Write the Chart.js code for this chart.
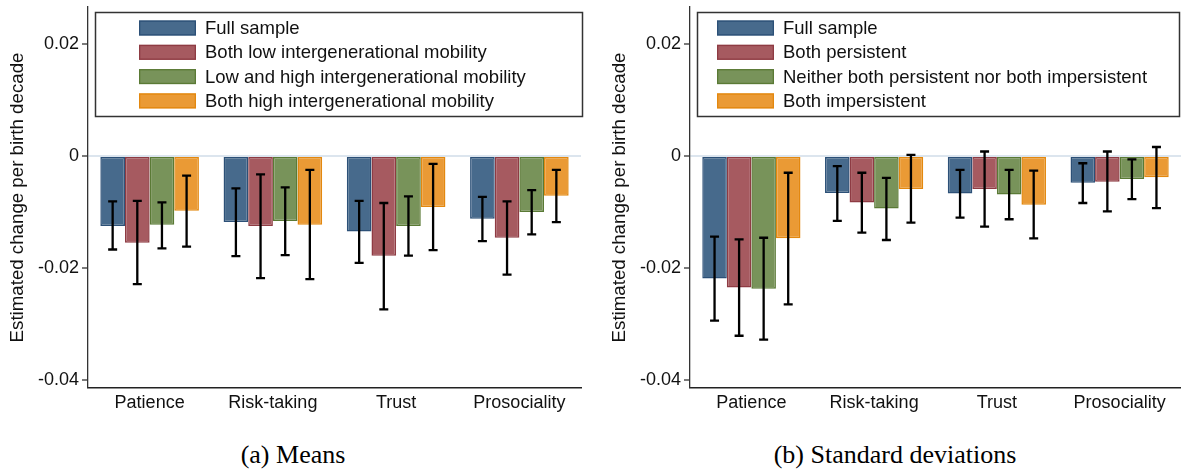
<!DOCTYPE html>
<html>
<head>
<meta charset="utf-8">
<script src="https://cdn.jsdelivr.net/npm/chart.js@4.4.1/dist/chart.umd.min.js"></script>
<style>
  html, body { margin: 0; padding: 0; background: #fff; }
  body { width: 1181px; height: 469px; overflow: hidden; position: relative; }
  .panel { position: absolute; top: 0; }
  #panelA { left: 0; }
  #panelB { left: 590px; }
  .cap { position: absolute; top: 442px; width: 400px; text-align: center;
         font-family: "Liberation Serif", "Times New Roman", serif; font-size: 26px; line-height: 26px; color: #000; }
  #capA { left: 93px; }
  #capB { left: 695px; }
</style>
</head>
<body>
<div class="panel" id="panelA"><canvas id="chartA" width="590" height="420"></canvas></div>
<div class="panel" id="panelB"><canvas id="chartB" width="591" height="420"></canvas></div>
<div class="cap" id="capA">(a) Means</div>
<div class="cap" id="capB">(b) Standard deviations</div>

<script>
// Outcomes on the horizontal axis
const categories = ['Patience', 'Risk-taking', 'Trust', 'Prosociality'];
const yTicks = [-0.04, -0.02, 0, 0.02];
const yTickLabels = ['-0.04', '-0.02', '0', '0.02'];
const yTitle = 'Estimated change per birth decade';

// Panel (a): means
const meansLabels = ['Full sample', 'Both low intergenerational mobility',
                     'Low and high intergenerational mobility', 'Both high intergenerational mobility'];
const meansFull     = [-0.0125, -0.0118, -0.0135, -0.0112];
const meansBothLow  = [-0.0155, -0.0125, -0.0178, -0.0146];
const meansLowHigh  = [-0.0123, -0.0116, -0.0125, -0.0100];
const meansBothHigh = [-0.0098, -0.0123, -0.0091, -0.0071];
const meansFullCI     = [[-0.0167, -0.0081], [-0.0179, -0.0058], [-0.0191, -0.0080], [-0.0152, -0.0073]];
const meansBothLowCI  = [[-0.0229, -0.0080], [-0.0218, -0.0033], [-0.0274, -0.0084], [-0.0212, -0.0081]];
const meansLowHighCI  = [[-0.0165, -0.0083], [-0.0177, -0.0056], [-0.0178, -0.0072], [-0.0140, -0.0061]];
const meansBothHighCI = [[-0.0162, -0.0035], [-0.0220, -0.0025], [-0.0168, -0.0014], [-0.0118, -0.0025]];

// Panel (b): standard deviations
const sdLabels = ['Full sample', 'Both persistent',
                  'Neither both persistent nor both impersistent', 'Both impersistent'];
const sdFull         = [-0.0219, -0.0066, -0.0067, -0.0048];
const sdPersistent   = [-0.0235, -0.0083, -0.0059, -0.0046];
const sdNeither      = [-0.0237, -0.0094, -0.0069, -0.0041];
const sdImpersistent = [-0.0147, -0.0059, -0.0087, -0.0038];
const sdFullCI         = [[-0.0294, -0.0144], [-0.0116, -0.0018], [-0.0110, -0.0025], [-0.0084, -0.0013]];
const sdPersistentCI   = [[-0.0321, -0.0149], [-0.0137, -0.0030], [-0.0126, 0.0008], [-0.0099, 0.0008]];
const sdNeitherCI      = [[-0.0328, -0.0146], [-0.0150, -0.0039], [-0.0113, -0.0025], [-0.0077, -0.0006]];
const sdImpersistentCI = [[-0.0265, -0.0030], [-0.0119, 0.0002], [-0.0147, -0.0026], [-0.0093, 0.0016]];

// Series styling
const fills   = ['#476A8C', '#A65A60', '#78935A', '#EA9A35'];
const borders = ['#2C5077', '#8E3B43', '#5A7A35', '#E3880F'];

const SANS = '"Liberation Sans", Arial, sans-serif';

// Confidence interval whiskers drawn over each bar
const errorBars = {
  id: 'errorBars',
  afterDatasetsDraw(chart) {
    const ctx = chart.ctx, ys = chart.scales.y;
    chart.data.datasets.forEach((ds, i) => {
      const meta = chart.getDatasetMeta(i);
      meta.data.forEach((bar, j) => {
        const lo = ys.getPixelForValue(ds.ci[j][0]);
        const hi = ys.getPixelForValue(ds.ci[j][1]);
        const x = bar.x, cap = 4.5;
        ctx.save();
        ctx.strokeStyle = '#000';
        ctx.lineWidth = 2.3;
        ctx.beginPath();
        ctx.moveTo(x, lo); ctx.lineTo(x, hi);
        ctx.moveTo(x - cap, lo); ctx.lineTo(x + cap, lo);
        ctx.moveTo(x - cap, hi); ctx.lineTo(x + cap, hi);
        ctx.stroke();
        ctx.restore();
      });
    });
  }
};

// Boxed legend inside the plot region, plus the rotated y-axis title
const boxLegend = {
  id: 'boxLegend',
  afterDraw(chart, args, o) {
    const ctx = chart.ctx;
    ctx.save();
    ctx.strokeStyle = '#333';
    ctx.lineWidth = 1.5;
    ctx.strokeRect(o.x, o.y, o.w, o.h);
    ctx.font = '18.5px ' + SANS;
    ctx.textBaseline = 'middle';
    ctx.fillStyle = '#111';
    chart.data.datasets.forEach((ds, i) => {
      const cy = o.y + 15.5 + i * 24.3;
      ctx.fillStyle = ds.backgroundColor;
      ctx.fillRect(o.sx, cy - 7.5, 57, 15);
      ctx.strokeStyle = ds.borderColor;
      ctx.lineWidth = 1.3;
      ctx.strokeRect(o.sx + 0.65, cy - 7.5 + 0.65, 57 - 1.3, 15 - 1.3);
      ctx.fillStyle = '#111';
      ctx.fillText(ds.label, o.sx + 66, cy + 1);
    });
    // y-axis title
    ctx.translate(o.titleX, (chart.chartArea.top + chart.chartArea.bottom) / 2);
    ctx.rotate(-Math.PI / 2);
    ctx.textAlign = 'center';
    ctx.textBaseline = 'middle';
    ctx.font = '18.7px ' + SANS;
    ctx.fillStyle = '#111';
    ctx.fillText(yTitle, 0, 0);
    ctx.restore();
  }
};

function makeChart(id, labels, series, cis, axisWidth, padRight, legendOpts) {
  const datasets = series.map((vals, i) => ({
    label: labels[i],
    data: vals,
    ci: cis[i],
    backgroundColor: fills[i],
    borderColor: borders[i],
    borderWidth: 1.5,
    borderSkipped: false,
    categoryPercentage: 0.8,
    barPercentage: 1.0
  }));
  return new Chart(document.getElementById(id), {
    type: 'bar',
    data: { labels: categories, datasets },
    options: {
      responsive: false,
      devicePixelRatio: 1,
      animation: false,
      layout: { padding: { top: 7, right: padRight, left: 0, bottom: 0 } },
      plugins: {
        legend: { display: false },
        tooltip: { enabled: false },
        boxLegend: legendOpts
      },
      scales: {
        x: {
          afterFit(scale) { scale.height = 32; scale.paddingLeft = 0; scale.paddingRight = 0; },
          grid: { display: true, drawOnChartArea: false, drawTicks: false },
          border: { display: true, color: '#222', width: 1.5 },
          ticks: { color: '#111', font: { family: SANS, size: 18 }, padding: 4, maxRotation: 0 }
        },
        y: {
          min: -0.04143,
          max: 0.0266,
          afterFit(scale) { scale.width = axisWidth; scale.paddingTop = 0; scale.paddingBottom = 0; },
          afterBuildTicks(scale) { scale.ticks = yTicks.map(v => ({ value: v })); },
          grid: {
            drawTicks: true,
            tickLength: 6,
            tickColor: '#333',
            tickWidth: 1.3,
            color: c => (c.tick && c.tick.value === 0) ? '#DCE5EE' : 'rgba(0,0,0,0)',
            lineWidth: c => (c.tick && c.tick.value === 0) ? 2 : 0
          },
          border: { display: true, color: '#333', width: 1.3 },
          ticks: {
            color: '#111',
            font: { family: SANS, size: 18 },
            padding: 3,
            callback: v => yTickLabels[yTicks.indexOf(v)]
          }
        }
      }
    },
    plugins: [errorBars, boxLegend]
  });
}

makeChart('chartA', meansLabels,
  [meansFull, meansBothLow, meansLowHigh, meansBothHigh],
  [meansFullCI, meansBothLowCI, meansLowHighCI, meansBothHighCI],
  88, 9,
  { x: 95.5, y: 12.5, w: 487, h: 104, sx: 139, titleX: 18 });

makeChart('chartB', sdLabels,
  [sdFull, sdPersistent, sdNeither, sdImpersistent],
  [sdFullCI, sdPersistentCI, sdNeitherCI, sdImpersistentCI],
  100, 0,
  { x: 107.5, y: 12.5, w: 482, h: 104, sx: 127, titleX: 30 });
</script>
</body>
</html>
